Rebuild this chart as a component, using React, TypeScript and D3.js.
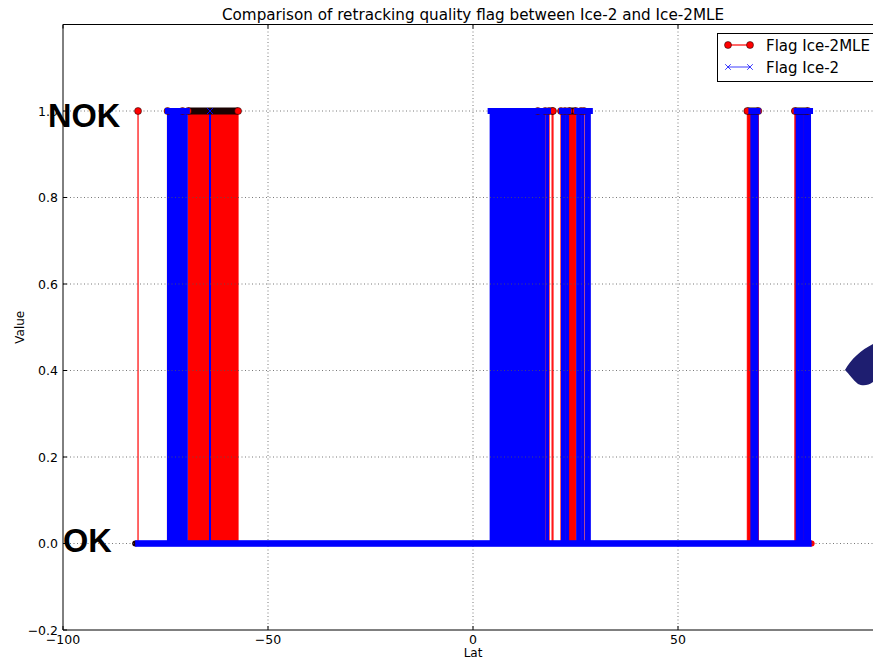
import React from "react";
import * as d3 from "d3";

// ---- data (latitude in degrees, flag 0 = OK, 1 = NOK) ----
const trackExtent: [number, number] = [-82.4, 82.6];

// dense oscillating stretches where Ice-2MLE flag is 1
const mleBlocks: [number, number][] = [
  [-69.5, -57.3],
  [23.4, 25.1],
  [66.9, 69.6],
  [78.5, 81.7],
];
// isolated Ice-2MLE flag = 1 records
const mleSpikes: number[] = [
  -81.7, -74.5, -70.85, 15.8, 17.6, 18.55, 19.3, 19.5, 21.46, 22.44, 26.34, 27.07,
];

// dense oscillating stretches where Ice-2 flag is 1
const ice2Blocks: [number, number][] = [
  [-74.4, -71.0],
  [-70.7, -69.8],
  [4.3, 15.6],
  [15.95, 17.45],
  [18.0, 18.3],
  [21.7, 22.2],
  [22.7, 23.2],
  [25.4, 26.1],
  [26.6, 26.85],
  [27.5, 28.5],
  [67.9, 69.4],
  [78.95, 79.4],
  [79.75, 80.4],
  [80.8, 82.2],
];
const ice2Spikes: number[] = [-64.15];

const xTicks = [-100, -50, 0, 50];
const yTicks = [-0.2, 0.0, 0.2, 0.4, 0.6, 0.8, 1.0];

const W = 873;
const H = 661;
const FONT = "DejaVu Sans, Verdana, sans-serif";
const BOLD = "Liberation Sans, Arial, sans-serif";
const RED = "#ff0000";
const BLUE = "#0000ff";

const fmt = (v: number, digits: number) => {
  const s = Math.abs(v).toFixed(digits);
  return (v < 0 ? "\u2212" : "") + s;
};

export default function App() {
  const x = d3.scaleLinear().domain([-100, 100]).range([63, 883]);
  const y = d3.scaleLinear().domain([-0.2, 1.2]).range([630, 24.5]);
  const left = x(-100);
  const right = W;
  const top = y(1.2);
  const bottom = y(-0.2);
  const y0 = y(0);
  const y1 = y(1);

  const crossPath = (cx: number, cy: number, s: number) =>
    `M${cx - s},${cy - s}L${cx + s},${cy + s}M${cx - s},${cy + s}L${cx + s},${cy - s}`;

  return (
    <svg
      width={W}
      height={H}
      style={{ position: "absolute", left: 0, top: 0, background: "#fff" }}
      fontFamily={FONT}
    >
      <rect x={0} y={0} width={W} height={H} fill="#fff" />

      {/* ---- Ice-2MLE (red) bodies ---- */}
      <g>
        {mleBlocks.map(([a, b], i) => (
          <rect key={"mb" + i} x={x(a)} y={y1} width={x(b) - x(a)} height={y0 - y1} fill={RED} stroke={RED} strokeWidth={1} />
        ))}
        {mleSpikes.map((v, i) => (
          <line key={"ms" + i} x1={x(v)} x2={x(v)} y1={y0} y2={y1} stroke={RED} strokeWidth={1.2} />
        ))}
        <circle cx={x(trackExtent[0])} cy={y0} r={3} fill="#200" />
        <circle cx={x(trackExtent[1])} cy={y0} r={3} fill={RED} />
      </g>

      {/* ---- Ice-2 (blue) bodies ---- */}
      <g>
        {ice2Blocks.map(([a, b], i) => (
          <rect key={"bb" + i} x={x(a)} y={y1} width={x(b) - x(a)} height={y0 - y1} fill={BLUE} stroke={BLUE} strokeWidth={2} />
        ))}
        {ice2Spikes.map((v, i) => (
          <line key={"bs" + i} x1={x(v)} x2={x(v)} y1={y0} y2={y1} stroke={BLUE} strokeWidth={2} />
        ))}
      </g>

      {/* ---- grid ---- */}
      <g stroke="#555" strokeWidth={0.8} strokeDasharray="1,2.5">
        {xTicks.filter((t) => t > -100).map((t) => (
          <line key={"gx" + t} x1={x(t)} x2={x(t)} y1={top} y2={bottom} />
        ))}
        {yTicks.filter((t) => t > -0.2).map((t) => (
          <line key={"gy" + t} x1={left} x2={right} y1={y(t)} y2={y(t)} />
        ))}
      </g>

      {/* ---- marker rows ---- */}
      <g>
        {mleBlocks.map(([a, b], i) => (
          <rect key={"mt" + i} x={x(a)} y={y1 - 3.5} width={x(b) - x(a)} height={7} fill="#1a0202" />
        ))}
        {mleBlocks.map(([a, b], i) => (
          <g key={"mc" + i}>
            <circle cx={x(a)} cy={y1} r={3.5} fill={RED} stroke="#000" strokeWidth={0.5} />
            <circle cx={x(b)} cy={y1} r={3.5} fill={RED} stroke="#000" strokeWidth={0.5} />
          </g>
        ))}
        {mleSpikes.map((v, i) => (
          <circle key={"msc" + i} cx={x(v)} cy={y1} r={3.5} fill={RED} stroke="#000" strokeWidth={0.5} />
        ))}
        {ice2Blocks.map(([a, b], i) => (
          <rect key={"bt" + i} x={x(a) - 3} y={y1 - 3} width={x(b) - x(a) + 6} height={6} fill={BLUE} />
        ))}
        {ice2Spikes.map((v, i) => (
          <path key={"bx" + i} d={crossPath(x(v), y1, 3)} stroke={BLUE} strokeWidth={1} />
        ))}
        <rect
          x={x(trackExtent[0])}
          y={y0 - 3.3}
          width={x(trackExtent[1]) - x(trackExtent[0])}
          height={6.6}
          fill={BLUE}
        />
      </g>

      {/* ---- frame ---- */}
      <g stroke="#000" strokeWidth={1} fill="none">
        <line x1={left} x2={left} y1={top} y2={bottom} />
        <line x1={left} x2={right} y1={bottom} y2={bottom} />
        <line x1={left} x2={right} y1={top} y2={top} />
      </g>

      {/* ---- ticks (inward) ---- */}
      <g stroke="#000" strokeWidth={1}>
        {xTicks.map((t) => (
          <g key={"tx" + t}>
            <line x1={x(t)} x2={x(t)} y1={bottom} y2={bottom - 4} />
            <line x1={x(t)} x2={x(t)} y1={top} y2={top + 4} />
          </g>
        ))}
        {yTicks.map((t) => (
          <line key={"ty" + t} x1={left} x2={left + 4} y1={y(t)} y2={y(t)} />
        ))}
      </g>

      {/* ---- tick labels ---- */}
      <g fontSize={12.5} fill="#000">
        {xTicks.map((t) => (
          <text key={"lx" + t} x={x(t)} y={bottom + 14} textAnchor="middle">
            {fmt(t, 0)}
          </text>
        ))}
        {yTicks.map((t) => (
          <text key={"ly" + t} x={left - 5} y={y(t) + 4.5} textAnchor="end">
            {fmt(t, 1)}
          </text>
        ))}
      </g>

      {/* ---- axis labels & title ---- */}
      <text x={x(0)} y={657} textAnchor="middle" fontSize={12}>
        Lat
      </text>
      <text transform={`translate(24,${(top + bottom) / 2}) rotate(-90)`} textAnchor="middle" fontSize={12}>
        Value
      </text>
      <text x={x(0)} y={19.5} textAnchor="middle" fontSize={15.2}>
        Comparison of retracking quality flag between Ice-2 and Ice-2MLE
      </text>

      {/* ---- legend ---- */}
      <g>
        <rect x={717.5} y={33.5} width={170} height={48} fill="#fff" stroke="#000" strokeWidth={1} />
        <line x1={728} x2={750} y1={45} y2={45} stroke={RED} strokeWidth={1.2} />
        <circle cx={728} cy={45} r={3.5} fill={RED} stroke="#000" strokeWidth={0.5} />
        <circle cx={750} cy={45} r={3.5} fill={RED} stroke="#000" strokeWidth={0.5} />
        <text x={766} y={50.5} fontSize={15}>
          Flag Ice-2MLE
        </text>
        <line x1={728} x2={750} y1={67} y2={67} stroke={BLUE} strokeWidth={1} opacity={0.75} />
        <path d={crossPath(728, 67, 2.8) + crossPath(750, 67, 2.8)} stroke={BLUE} strokeWidth={1} opacity={0.75} />
        <text x={766} y={72.5} fontSize={15}>
          Flag Ice-2
        </text>
      </g>

      {/* ---- annotations ---- */}
      <text x={48} y={126.5} fontFamily={BOLD} fontWeight="bold" fontSize={32.5} fill="#000">
        NOK
      </text>
      <text x={63} y={551.5} fontFamily={BOLD} fontWeight="bold" fontSize={32.5} fill="#000">
        OK
      </text>
      <path d="M845,370 C851,359 861,350 873,344 L873,382 C868,386 862,386 858,384 C853,380 849,374 845,370 Z" fill="#1e1e70" />
    </svg>
  );
}
